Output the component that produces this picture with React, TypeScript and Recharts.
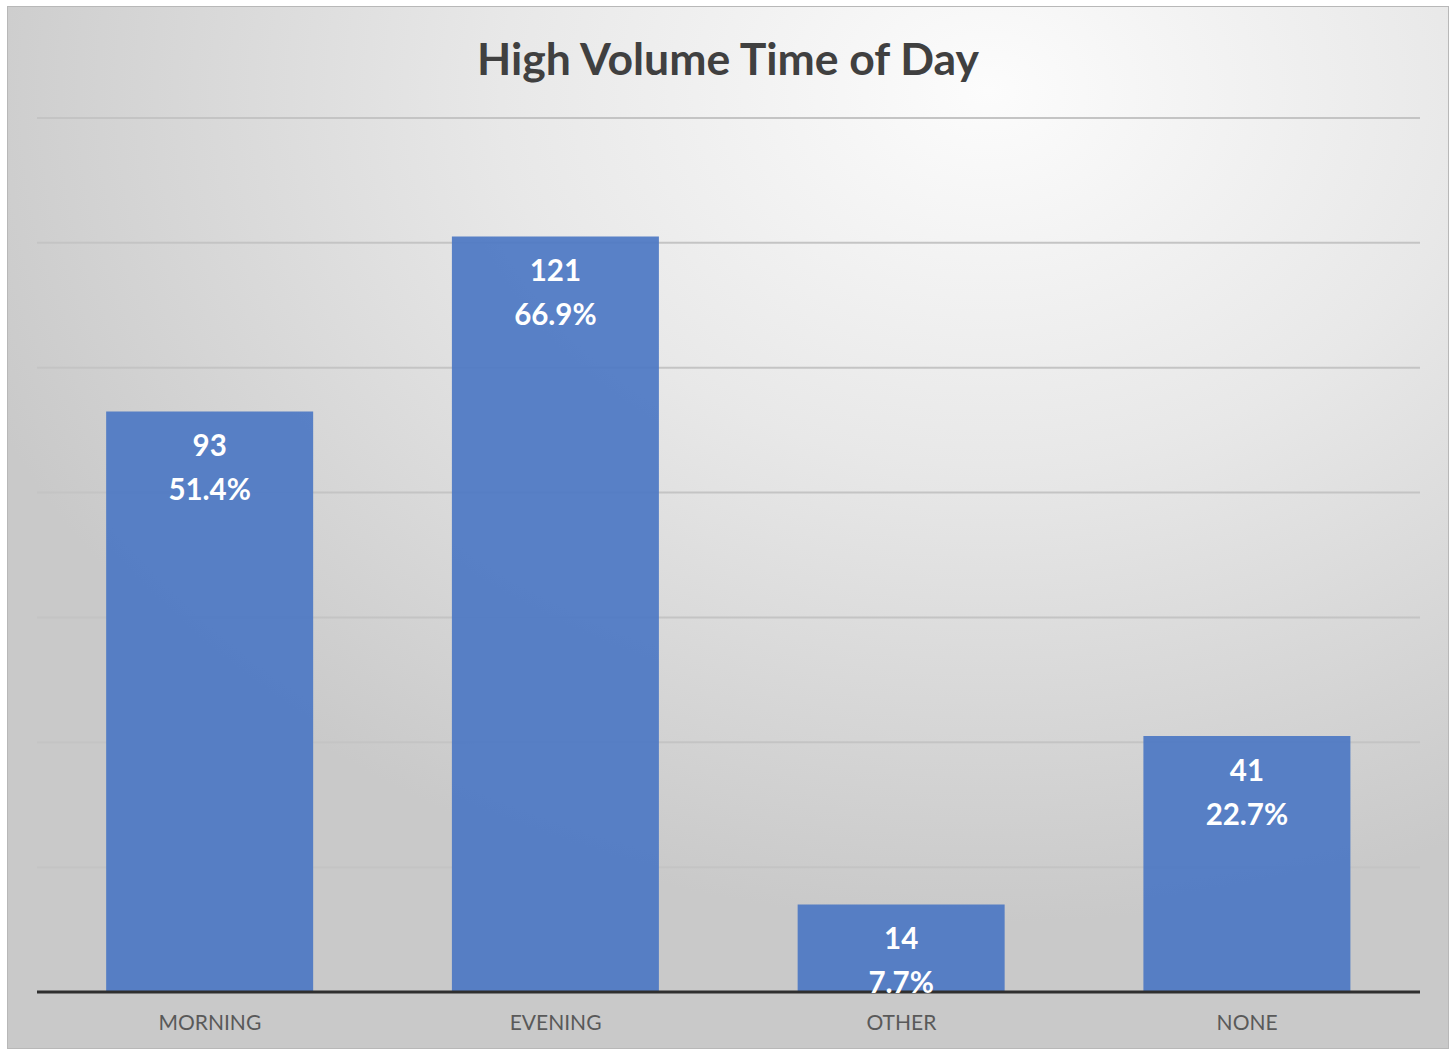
import { BarChart, Bar, XAxis, YAxis, CartesianGrid, LabelList } from "recharts";

const CATEGORIES = ["MORNING", "EVENING", "OTHER", "NONE"];
const COUNTS = [93, 121, 14, 41];
const SHARES = ["51.4%", "66.9%", "7.7%", "22.7%"];
const Y_TICKS = [0, 20, 40, 60, 80, 100, 120, 140];

const FONT = "Lato, 'Open Sans', sans-serif";

const data = CATEGORIES.map((name, i) => ({ name, value: COUNTS[i], share: SHARES[i] }));

// eslint-disable-next-line @typescript-eslint/no-explicit-any
function BarLabel(props: any) {
  const { x, y, width, index } = props;
  const cx = x + width / 2;
  return (
    <g>
      <text x={cx} y={y + 33} textAnchor="middle" dominantBaseline="central" fill="#fff" fontSize={29.5} fontWeight={700} fontFamily={FONT}>
        {COUNTS[index]}
      </text>
      <text x={cx} y={y + 77} textAnchor="middle" dominantBaseline="central" fill="#fff" fontSize={29.5} fontWeight={700} fontFamily={FONT}>
        {SHARES[index]}
      </text>
    </g>
  );
}

export default function App() {
  return (
    <div style={{ position: "absolute", left: 0, top: 0, width: 1456, height: 1051, background: "#fff", overflow: "hidden" }}>
      {/* chart frame */}
      <div
        style={{
          position: "absolute",
          left: 7,
          top: 6,
          width: 1440,
          height: 1041,
          border: "1px solid #b8b8b8",
          background: "radial-gradient(ellipse 75% 80% at 68% 8%, #fcfcfc 0%, #e8e8e8 45%, #c9c9c9 100%)",
        }}
      />
      <div
        style={{
          position: "absolute",
          left: 0,
          top: 29,
          width: 1456,
          textAlign: "center",
          fontFamily: FONT,
          fontWeight: 700,
          fontSize: 44.5,
          color: "#404040",
          lineHeight: "58px",
        }}
      >
        High Volume Time of Day
      </div>
      <div style={{ position: "absolute", left: 0, top: 0 }}>
        <BarChart width={1456} height={1051} data={data} margin={{ top: 118, right: 36, left: 37, bottom: 29 }} barCategoryGap="20%">
          <CartesianGrid vertical={false} stroke="#c4c4c4" strokeWidth={2} />
          <YAxis hide domain={[0, 140]} ticks={Y_TICKS} />
          <XAxis
            dataKey="name"
            height={30}
            axisLine={{ stroke: "#2f2f2f", strokeWidth: 3 }}
            tickLine={false}
            tick={{ fill: "#595959", fontSize: 21, fontFamily: FONT }}
            dy={15}
          />
          <Bar dataKey="value" fill="#4e78c4" fillOpacity={0.93} isAnimationActive={false}>
            <LabelList dataKey="value" content={<BarLabel />} />
          </Bar>
        </BarChart>
      </div>
    </div>
  );
}
